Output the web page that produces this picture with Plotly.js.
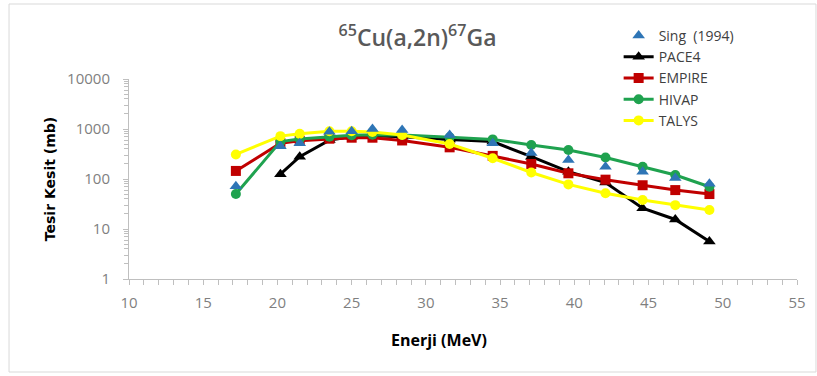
<!DOCTYPE html>
<html>
<head>
<meta charset="utf-8">
<script src="https://cdn.plot.ly/plotly-3.0.1.min.js"></script>
<style>html,body{margin:0;padding:0;background:#fff;}#chart{width:817px;height:376px;}</style>
</head>
<body>
<div id="chart"></div>
<script>
// Energy (MeV)
const energy = [17.2, 20.2, 21.5, 23.5, 25.0, 26.4, 28.4, 31.6, 34.5, 37.1, 39.6, 42.1, 44.6, 46.8, 49.1];
// Cross sections (mb)
const sing1994 = [72, 450, 520, 880, 900, 1000, 950, 760, 520, 330, 240, 175, 140, 105, 80];
const pace4Energy = [20.2, 21.5, 23.5, 25.0, 26.4, 28.4, 31.6, 34.5, 37.1, 39.6, 42.1, 44.6, 46.8, 49.1];
const pace4 = [125, 280, 600, 700, 730, 700, 620, 560, 280, 140, 85, 26, 15.5, 5.6];
const empire = [145, 520, 580, 640, 670, 670, 590, 430, 290, 200, 130, 97, 75, 60, 50];
const hivap = [50, 560, 630, 700, 750, 770, 760, 680, 620, 480, 380, 270, 175, 120, 70];
const talys = [310, 720, 800, 900, 900, 870, 760, 500, 260, 135, 78, 52, 38, 30, 24];
const xTicks = [10, 15, 20, 25, 30, 35, 40, 45, 50, 55];
const yTicks = [1, 10, 100, 1000, 10000];

const traces = [
  {name: 'PACE4', x: pace4Energy, y: pace4, mode: 'lines+markers', legendrank: 2,
   line: {color: '#000000', width: 3}, marker: {symbol: 'triangle-up', size: 11, color: '#000000'}},
  {name: 'EMPIRE', x: energy, y: empire, mode: 'lines+markers', legendrank: 3,
   line: {color: '#c00000', width: 3}, marker: {symbol: 'square', size: 10, color: '#c00000'}},
  {name: 'HIVAP', x: energy, y: hivap, mode: 'lines+markers', legendrank: 4,
   line: {color: '#1fa24f', width: 3}, marker: {symbol: 'circle', size: 10, color: '#1fa24f'}},
  {name: 'TALYS', x: energy, y: talys, mode: 'lines+markers', legendrank: 5,
   line: {color: '#ffff00', width: 3}, marker: {symbol: 'circle', size: 10, color: '#ffff00'}},
  {name: 'Sing  (1994)', x: energy, y: sing1994, mode: 'markers', legendrank: 1,
   marker: {symbol: 'triangle-up', size: 11, color: '#2e75b6'}}
];

const layout = {
  width: 817, height: 376,
  margin: {l: 129, r: 20, t: 79, b: 97},
  paper_bgcolor: '#ffffff', plot_bgcolor: '#ffffff',
  showlegend: true,
  title: {text: '<sup>65</sup>Cu(a,2n)<sup>67</sup>Ga', x: 0.511, xanchor: 'center', y: 0.9, yanchor: 'middle',
          font: {family: 'Open Sans', size: 23, color: '#595959', weight: 600}},
  xaxis: {
    range: [10, 55], tickvals: xTicks, ticktext: xTicks.map(String),
    showgrid: false, zeroline: false, showline: true, linecolor: '#bfbfbf', linewidth: 1,
    ticks: 'outside', ticklen: 5, tickcolor: '#bfbfbf',
    minor: {dtick: 1, ticks: 'outside', ticklen: 5, tickcolor: '#bfbfbf', showgrid: false},
    tickfont: {family: 'Open Sans', size: 15, color: '#7f7f7f'},
    ticklabelstandoff: 5
  },
  yaxis: {
    type: 'log', range: [0, 4], tickvals: yTicks, ticktext: yTicks.map(String),
    showgrid: false, zeroline: false, showline: true, linecolor: '#bfbfbf', linewidth: 1,
    ticks: 'outside', ticklen: 5, tickcolor: '#bfbfbf',
    minor: {dtick: 'D1', ticks: 'outside', ticklen: 4, tickcolor: '#bfbfbf', showgrid: false},
    tickfont: {family: 'Open Sans', size: 15, color: '#7f7f7f'},
    ticklabelstandoff: 10,
    title: {text: 'Tesir Kesit (mb)', font: {family: 'DejaVu Sans', size: 14, color: '#000000', weight: 'bold'}, standoff: 8}
  },
  annotations: [{text: 'Enerji (MeV)', xref: 'paper', yref: 'paper', x: 0.464, y: -0.305,
                 xanchor: 'center', yanchor: 'middle', showarrow: false,
                 font: {family: 'Open Sans', size: 16, color: '#000000', weight: 'bold'}}],
  legend: {x: 0.733, y: 1.295, xanchor: 'left', yanchor: 'top', bgcolor: 'rgba(0,0,0,0)',
           font: {family: 'Open Sans', size: 14, color: '#404040'}, tracegroupgap: 0, itemwidth: 30},
  shapes: [{type: 'rect', xref: 'paper', yref: 'paper', x0: -0.1796, x1: 1.0284, y0: -0.465, y1: 1.375,
            line: {color: '#d9d9d9', width: 1}, fillcolor: 'rgba(0,0,0,0)'}]
};

Plotly.newPlot('chart', traces, layout, {displayModeBar: false, staticPlot: true});
</script>
</body>
</html>
